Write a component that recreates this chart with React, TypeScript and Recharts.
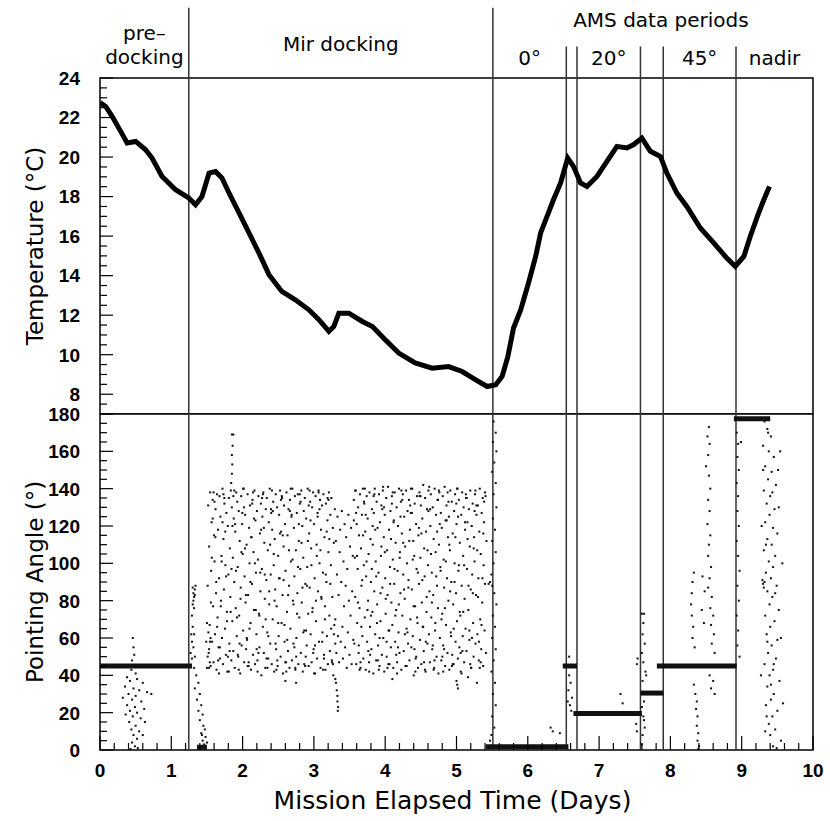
import React from "react";
import {
  ComposedChart,
  Line,
  Scatter,
  XAxis,
  YAxis,
  ReferenceLine,
  ReferenceArea,
} from "recharts";

// ---------- temperature (top panel) ----------
const tempDays = [
  0.0, 0.08, 0.17, 0.29, 0.38, 0.5, 0.64, 0.73, 0.87, 1.06, 1.245, 1.34, 1.43,
  1.53, 1.62, 1.71, 1.81, 1.95, 2.09, 2.23, 2.37, 2.55, 2.74, 2.93, 3.07, 3.21,
  3.28, 3.35, 3.49, 3.68, 3.82, 4.0, 4.19, 4.42, 4.66, 4.89, 5.08, 5.27, 5.43,
  5.55, 5.64, 5.72, 5.8, 5.9, 6.01, 6.11, 6.18, 6.27, 6.36, 6.46, 6.56, 6.64,
  6.74, 6.83, 6.97, 7.11, 7.25, 7.39, 7.48, 7.6, 7.72, 7.86, 7.95, 8.09, 8.23,
  8.42, 8.61, 8.79, 8.91, 9.03, 9.12, 9.22, 9.31, 9.39,
];
const tempValues = [
  22.75, 22.56, 22.06, 21.3, 20.71, 20.79, 20.37, 19.95, 19.02, 18.35, 17.93,
  17.59, 18.0, 19.19, 19.27, 18.94, 18.18, 17.17, 16.16, 15.14, 14.05, 13.2,
  12.78, 12.27, 11.77, 11.18, 11.43, 12.1, 12.1, 11.68, 11.43, 10.76, 10.08,
  9.58, 9.32, 9.4, 9.15, 8.73, 8.39, 8.48, 8.9, 9.9, 11.35, 12.27, 13.63,
  14.97, 16.16, 17.0, 17.84, 18.69, 19.95, 19.53, 18.69, 18.51, 19.02, 19.78,
  20.54, 20.46, 20.62, 20.96, 20.29, 20.03, 19.19, 18.18, 17.5, 16.41, 15.65,
  14.89, 14.47, 14.97, 15.98, 17.0, 17.84, 18.51,
];
const tempMajorTicks = [8, 10, 12, 14, 16, 18, 20, 22, 24];

// ---------- pointing angle (bottom panel) ----------
// steady attitude holds: start day, end day, angle
const holdStart = [0, 1.36, 5.41, 6.49, 6.64, 7.58, 7.81, 8.89];
const holdEnd = [1.29, 1.5, 6.57, 6.69, 7.6, 7.9, 8.93, 9.4];
const holdAngle = [45, 1.5, 1.8, 45, 19.5, 30.5, 45, 177.5];

// Mir docking: samples evenly spaced in time
const mirEarlyRange = [1.51, 3.3];
const mirEarlyAngles = [
  88, 131, 52, 109, 67, 138, 45, 96, 122, 58, 134, 77, 47, 115, 101, 62, 129, 84, 43, 137,
  71, 118, 55, 92, 136, 49, 125, 80, 104, 60, 140, 46, 113, 86, 132, 65, 99, 51, 127, 74,
  42, 120, 94, 135, 57, 108, 82, 139, 48, 130, 69, 103, 53, 124, 90, 44, 117, 76, 138, 61,
  133, 98, 50, 128, 72, 112, 41, 87, 136, 56, 121, 105, 64, 140, 47, 93, 126, 79, 54, 110,
  59, 137, 83, 45, 119, 100, 131, 68, 43, 114, 89, 134, 51, 106, 75, 139, 46, 123, 95, 62,
  128, 48, 102, 136, 73, 55, 116, 85, 132, 40, 97, 125, 66, 138, 52, 111, 81, 44, 129, 91,
  135, 63, 107, 49, 122, 78, 140, 57, 94, 127, 46, 118, 70, 133, 99, 42, 113, 86, 137, 54,
  77, 130, 45, 104, 61, 126, 92, 139, 50, 117, 68, 135, 83, 41, 109, 131, 58, 121, 96, 47,
  138, 74, 115, 53, 129, 88, 44, 134, 65, 101, 125, 48, 140, 80, 57, 119, 93, 136, 43, 107,
  60, 127, 84, 137, 46, 112, 71, 132, 97, 52, 139, 79, 120, 42, 103, 128, 64, 135, 89, 50,
  124, 56, 98, 140, 73, 45, 116, 87, 133, 62, 108, 47, 130, 76, 138, 54, 121, 92, 41, 136,
  69, 110, 49, 127, 85, 139, 58, 100, 134, 44, 118, 81, 131, 63, 95, 137, 51, 114, 77, 43,
  132, 90, 61, 123, 46, 106, 138, 72, 53, 126, 99, 135, 48, 82, 119, 40, 111, 67, 129, 57,
];
const mirGapRange = [3.3, 3.56];
const mirGapAngles = [
  70, 112, 52, 94, 125, 61, 83, 47, 106, 118, 58, 90, 128, 66, 49, 101, 77, 121,
  55, 88, 114, 44, 97, 63, 126, 80, 51, 109, 72, 119, 46, 85, 104, 59, 123,
];
const mirLateRange = [3.56, 5.42];
const mirLateAngles = [
  134, 57, 103, 82, 139, 46, 121, 68, 97, 130, 52, 115, 76, 137, 44, 108, 88, 126, 61, 140,
  49, 99, 132, 71, 117, 43, 93, 136, 58, 124, 80, 105, 47, 138, 66, 113, 90, 54, 129, 74,
  110, 41, 127, 85, 140, 62, 101, 48, 133, 78, 119, 56, 95, 137, 45, 122, 69, 104, 131, 51,
  87, 139, 60, 114, 42, 126, 92, 73, 135, 50, 107, 83, 141, 64, 118, 46, 98, 128, 55, 79,
  136, 67, 102, 44, 123, 89, 138, 58, 111, 75, 130, 47, 96, 120, 63, 140, 52, 106, 84, 133,
  43, 116, 72, 137, 94, 53, 125, 81, 109, 45, 139, 65, 100, 128, 57, 91, 134, 48, 118, 70,
  127, 55, 86, 140, 61, 112, 40, 104, 132, 77, 49, 121, 97, 136, 68, 44, 115, 89, 138, 59,
  103, 131, 46, 79, 124, 66, 142, 53, 108, 93, 135, 42, 117, 74, 129, 57, 99, 139, 62, 85,
  47, 120, 137, 71, 95, 54, 130, 83, 113, 44, 140, 64, 106, 126, 50, 88, 134, 76, 41, 110,
  138, 60, 98, 127, 48, 119, 73, 136, 56, 102, 87, 141, 45, 123, 67, 131, 92, 52, 114, 80,
  125, 43, 107, 139, 63, 90, 133, 51, 116, 78, 46, 128, 100, 137, 58, 84, 121, 69, 140, 49,
  96, 134, 55, 111, 72, 42, 126, 88, 138, 61, 104, 130, 47, 81, 118, 65, 135, 53, 97, 122,
  39, 75, 129, 59, 109, 139, 86, 44, 120, 94, 132, 68, 50, 114, 101, 137, 57, 83, 126, 36,
  62, 131, 92, 48, 117, 140, 70, 105, 54, 127, 79, 135, 45, 99, 122, 64, 89, 136, 52, 112,
];
// second telemetry stream during docking (slow attitude swings)
const mirSwingEarlyRange = [1.53, 3.28];
const mirSwingEarlyAngles = [
  44, 58, 79, 103, 124, 138, 133, 114, 90, 66, 48, 41, 55, 77, 101, 122, 137, 135, 117, 93,
  69, 50, 42, 53, 74, 97, 120, 136, 139, 121, 96, 71, 51, 43, 57, 81, 106, 127, 140, 130,
  108, 83, 60, 45, 47, 65, 90, 114, 132, 138, 124, 100, 75, 54, 42, 52, 72, 95, 118, 135,
  137, 119, 94, 70, 49, 44, 61, 85, 110, 129, 139, 128, 105, 80, 57, 43, 48, 68, 92, 116,
  134, 136, 115, 91, 67, 47, 42, 59, 83, 107, 128, 140, 126, 102, 78, 55, 44, 50, 73, 98,
  121, 137, 133, 111, 87, 63, 46, 45, 64, 88, 112, 131, 139, 123, 99, 74, 52, 41, 56, 80,
  104, 125, 138, 129, 107, 82, 58, 43, 49, 70, 94, 117, 135, 134, 113, 89, 65, 47, 46, 62,
];
const mirSwingLateRange = [3.58, 5.4];
const mirSwingLateAngles = [
  139, 127, 104, 79, 56, 43, 47, 66, 91, 115, 133, 140, 126, 101, 75, 53, 42, 51, 72, 97,
  120, 136, 137, 118, 93, 68, 48, 43, 60, 84, 109, 129, 141, 130, 106, 81, 58, 44, 46, 64,
  89, 113, 132, 138, 122, 97, 72, 51, 41, 55, 78, 103, 125, 139, 134, 111, 86, 62, 45, 45,
  63, 87, 112, 131, 140, 127, 102, 77, 54, 42, 50, 71, 95, 119, 136, 136, 116, 91, 66, 47,
  43, 58, 82, 107, 128, 141, 129, 105, 79, 56, 43, 48, 68, 93, 117, 134, 139, 121, 96, 70,
  50, 42, 54, 76, 101, 123, 138, 133, 110, 85, 61, 45, 46, 65, 90, 114, 132, 140, 125, 99,
  74, 52, 41, 53, 74, 99, 122, 137, 135, 113, 88, 64, 46, 44, 60, 84, 108, 128, 139, 131,
  107, 82, 58, 44, 47, 67, 92, 116, 133, 138,
];

// scattered single samples: [day, angle]
const preDockScatter = [
  [0.46, 60], [0.47, 55], [0.48, 51], [0.45, 48], [0.44, 43], [0.5, 41], [0.38, 39],
  [0.42, 37], [0.52, 38], [0.6, 36], [0.35, 34], [0.47, 33], [0.55, 32], [0.66, 31],
  [0.4, 30], [0.5, 29], [0.32, 28], [0.45, 27], [0.58, 26], [0.38, 24], [0.49, 23],
  [0.62, 22], [0.42, 21], [0.52, 20], [0.36, 19], [0.46, 18], [0.57, 17], [0.63, 15],
  [0.41, 15], [0.5, 13], [0.44, 11], [0.55, 10], [0.47, 8], [0.52, 6], [0.45, 4],
  [0.49, 2], [0.53, 1], [0.72, 30], [0.6, 8], [0.43, 0.5],
];
const dockingScatter = [
  [1.3, 87], [1.31, 84], [1.32, 82], [1.31, 80], [1.33, 86], [1.3, 78], [1.32, 76],
  [1.33, 83], [1.34, 88], [1.29, 72], [1.3, 66], [1.32, 62], [1.29, 58], [1.31, 55],
  [1.33, 50], [1.29, 49], [1.32, 44], [1.35, 40], [1.38, 36], [1.33, 33], [1.4, 30],
  [1.36, 27], [1.42, 24], [1.38, 21], [1.44, 19], [1.4, 16], [1.45, 13], [1.47, 11],
  [1.42, 9], [1.48, 7], [1.44, 5], [1.46, 3], [1.43, 8], [1.5, 4], [1.5, 68],
  [1.52, 63], [1.49, 58], [1.53, 54], [1.51, 50], [1.54, 47], [1.5, 44], [1.55, 60],
  [1.28, 62], [1.27, 52], [1.84, 143], [1.85, 148], [1.855, 153], [1.85, 158],
  [1.86, 163], [1.85, 169], [1.87, 169], [3.3, 38], [3.31, 36], [3.32, 32],
  [3.33, 29], [3.33, 26], [3.34, 23], [3.335, 21], [5.0, 37], [5.02, 33],
  [5.01, 35], [2.6, 37], [2.75, 36], [4.1, 38],
];
const undockScatter = [
  [5.52, 176], [5.55, 170], [5.51, 165], [5.56, 160], [5.53, 154], [5.5, 149],
  [5.55, 143], [5.52, 137], [5.56, 130], [5.51, 124], [5.54, 118], [5.5, 112],
  [5.55, 106], [5.52, 100], [5.49, 94], [5.47, 90], [5.45, 89], [5.5, 88],
  [5.53, 84], [5.56, 78], [5.51, 72], [5.54, 66], [5.5, 60], [5.55, 54],
  [5.52, 48], [5.49, 42], [5.54, 36], [5.51, 30], [5.55, 24], [5.5, 18],
  [5.53, 12], [5.49, 8], [5.47, 5],
];
const amsScatter = [
  [6.32, 12], [6.35, 10], [6.45, 9], [6.58, 40], [6.6, 36], [6.57, 32], [6.62, 28],
  [6.59, 24], [6.61, 21], [6.56, 26], [6.58, 50], [7.3, 30], [7.33, 25], [7.53, 46],
  [7.54, 49], [7.52, 14], [7.53, 10], [7.6, 73], [7.63, 73], [7.62, 68], [7.61, 62],
  [7.64, 57], [7.6, 52], [7.62, 47], [7.65, 42], [7.61, 37], [7.63, 26], [7.6, 23],
  [7.62, 18], [7.64, 12], [7.61, 8], [7.6, 3], [7.63, 16], [7.66, 40],
  [8.33, 95], [8.31, 90], [8.3, 84], [8.29, 78], [8.3, 72], [8.32, 66], [8.31, 60],
  [8.34, 55], [8.33, 35], [8.35, 30], [8.37, 26], [8.36, 22], [8.38, 18], [8.37, 13],
  [8.39, 9], [8.38, 5], [8.4, 2], [8.39, 0.5], [8.54, 173], [8.52, 168], [8.55, 164],
  [8.53, 158], [8.5, 152], [8.54, 147], [8.56, 140], [8.53, 134], [8.55, 128],
  [8.52, 121], [8.56, 115], [8.54, 110], [8.53, 104], [8.57, 98], [8.55, 92],
  [8.53, 87], [8.58, 82], [8.56, 76], [8.6, 72], [8.57, 67], [8.61, 62], [8.58, 57],
  [8.62, 52], [8.55, 40], [8.6, 37], [8.57, 33], [8.62, 30], [8.45, 93], [8.48, 85],
  [8.44, 75], [8.47, 68], [8.93, 170], [8.95, 164], [8.94, 157], [8.96, 150],
  [8.93, 143], [8.95, 136], [8.94, 128], [8.96, 120], [8.93, 112], [8.95, 104],
  [8.97, 96], [8.94, 88], [8.96, 80], [8.93, 72], [8.95, 64], [8.94, 56], [8.97, 50],
  [8.99, 165],
];
const nadirScatter = [
  [9.32, 176], [9.36, 172], [9.41, 168], [9.3, 163], [9.38, 160], [9.45, 157],
  [9.33, 152], [9.42, 149], [9.37, 145], [9.48, 142], [9.31, 139], [9.4, 136],
  [9.35, 132], [9.46, 129], [9.39, 126], [9.33, 122], [9.44, 119], [9.5, 116],
  [9.36, 113], [9.42, 110], [9.31, 107], [9.47, 104], [9.38, 101], [9.44, 98],
  [9.34, 95], [9.29, 91], [9.3, 89], [9.31, 87], [9.32, 90], [9.41, 92], [9.49, 88],
  [9.36, 85], [9.43, 82], [9.39, 78], [9.52, 75], [9.33, 72], [9.46, 69], [9.4, 66],
  [9.35, 62], [9.5, 59], [9.42, 56], [9.37, 52], [9.48, 49], [9.32, 46], [9.44, 43],
  [9.39, 40], [9.53, 37], [9.36, 34], [9.45, 30], [9.41, 27], [9.34, 24], [9.5, 21],
  [9.43, 18], [9.38, 14], [9.47, 11], [9.4, 8], [9.55, 5], [9.44, 2], [9.49, 1],
  [9.35, 18], [9.52, 130], [9.54, 160], [9.3, 150], [9.28, 120], [9.57, 100],
  [9.55, 60], [9.27, 40], [9.58, 25], [9.37, 170], [9.43, 138], [9.34, 110],
  [9.47, 84], [9.36, 58], [9.41, 35], [9.33, 10], [9.51, 150], [9.45, 46],
];
const angleMajorTicks = [0, 20, 40, 60, 80, 100, 120, 140, 160, 180];
const dayTicks = [0, 1, 2, 3, 4, 5, 6, 7, 8, 9, 10];

// ---------- mission periods ----------
const mainDividers = [1.245, 5.51];
const amsDividers = [6.54, 6.69, 7.58, 7.9, 8.92];
const periodLabels = [["pre–", "docking"], ["Mir docking"], ["0°"], ["20°"], ["45°"], ["nadir"]];
const periodFrom = [0, 1.245, 5.51, 6.69, 7.9, 8.92];
const periodTo = [1.245, 5.51, 6.54, 7.58, 8.92, 10];
const periodTextTop = [45, 34, 20, 20, 20, 20];

// ---------- helpers ----------
const W = 830;
const PLOT_RIGHT = 17;
const AXIS_W = 100;
const TICK_FONT = "'Liberation Sans', Arial, sans-serif";
const TITLE_FONT = "'DejaVu Sans', Verdana, sans-serif";

const fineTicks = (lo: number, hi: number, step: number) => {
  const out: number[] = [];
  for (let v = lo; v <= hi + 1e-9; v += step) out.push(Math.round(v * 1000) / 1000);
  return out;
};
const isIn = (v: number, list: number[]) => list.some((m) => Math.abs(m - v) < 1e-6);

const toPoints = (pairs: number[][]) => pairs.map(([x, y]) => ({ x, y }));
const spread = (range: number[], angles: number[]) =>
  angles.map((y, i) => ({ x: range[0] + ((range[1] - range[0]) * i) / (angles.length - 1), y }));

const tempData = tempDays.map((x, i) => ({ x, y: tempValues[i] }));
const mirData = [
  ...spread(mirEarlyRange, mirEarlyAngles),
  ...spread(mirGapRange, mirGapAngles),
  ...spread(mirLateRange, mirLateAngles),
  ...spread(mirSwingEarlyRange, mirSwingEarlyAngles),
  ...spread(mirSwingLateRange, mirSwingLateAngles),
];
const scatterData = [
  ...toPoints(preDockScatter),
  ...toPoints(dockingScatter),
  ...toPoints(undockScatter),
  ...toPoints(amsScatter),
  ...toPoints(nadirScatter),
];

const Dot = (props: any) => {
  const { cx, cy } = props;
  if (cx == null || cy == null) return null;
  return <rect x={cx - 1} y={cy - 1} width={2} height={2} fill="#111" />;
};

const XTick = (props: any) => {
  const { x, y, payload, showLabel } = props;
  const v = payload.value;
  const major = isIn(v, dayTicks);
  return (
    <g>
      <line x1={x} y1={y} x2={x} y2={y - (major ? 14 : 7)} stroke="#000" strokeWidth={1.2} />
      {showLabel && major && (
        <text x={x} y={y + 27} textAnchor="middle" fontFamily={TICK_FONT} fontWeight="bold" fontSize={19} fill="#000">
          {Math.round(v)}
        </text>
      )}
    </g>
  );
};

const YTick = (props: any) => {
  const { x, y, payload, majors } = props;
  const v = payload.value;
  const major = isIn(v, majors);
  return (
    <g>
      <line x1={x} y1={y} x2={x + (major ? 13 : 7)} y2={y} stroke="#000" strokeWidth={1.2} />
      {major && (
        <text x={x - 20} y={y} dy="0.36em" textAnchor="end" fontFamily={TICK_FONT} fontWeight="bold" fontSize={19} fill="#000">
          {v}
        </text>
      )}
    </g>
  );
};

const YTitle = (props: any) => {
  const { viewBox, text } = props;
  const cx = viewBox.x + 35;
  const cy = viewBox.y + viewBox.height / 2;
  return (
    <text x={cx} y={cy} transform={`rotate(-90 ${cx} ${cy})`} textAnchor="middle" dominantBaseline="central" fontFamily={TITLE_FONT} fontSize={23} fill="#000">
      {text}
    </text>
  );
};

const XTitle = (props: any) => {
  const { viewBox } = props;
  return (
    <text x={viewBox.x + viewBox.width / 2 - 4} y={viewBox.y + 50} textAnchor="middle" dominantBaseline="central" fontFamily={TITLE_FONT} fontSize={25} fill="#000">
      Mission Elapsed Time (Days)
    </text>
  );
};

const PeriodLabel = (props: any) => {
  const { viewBox, lines, top, dx = 0 } = props;
  const cx = viewBox.x + viewBox.width / 2 + dx;
  return (
    <g>
      {lines.map((t: string, i: number) => (
        <text key={i} x={cx} y={viewBox.y - top + i * 24} textAnchor="middle" dominantBaseline="central" fontFamily={TITLE_FONT} fontSize={20} fill="#000">
          {t}
        </text>
      ))}
    </g>
  );
};

export default function App() {
  return (
    <div style={{ position: "absolute", left: 0, top: 0, width: W, height: 821, background: "#fff" }}>
      {/* pointing angle panel (drawn first so the temperature panel frame sits on top) */}
      <div style={{ position: "absolute", left: 0, top: 394 }}>
        <ComposedChart width={W} height={427} margin={{ top: 20, right: PLOT_RIGHT, bottom: 0, left: 0 }}>
          <XAxis
            dataKey="x"
            type="number"
            domain={[0, 10]}
            allowDataOverflow
            ticks={fineTicks(0, 10, 0.2)}
            interval={0}
            height={71}
            tickSize={0}
            tickMargin={0}
            axisLine={false}
            tickLine={false}
            tick={(p: any) => <XTick {...p} showLabel />}
            label={<XTitle />}
          />
          <YAxis
            dataKey="y"
            type="number"
            domain={[0, 180]}
            allowDataOverflow
            ticks={fineTicks(0, 180, 5)}
            interval={0}
            width={AXIS_W}
            tickSize={0}
            tickMargin={0}
            axisLine={false}
            tickLine={false}
            tick={(p: any) => <YTick {...p} majors={angleMajorTicks} />}
            label={<YTitle text="Pointing Angle (°)" />}
          />
          {[...mainDividers, ...amsDividers].map((d) => (
            <ReferenceLine key={`v${d}`} x={d} stroke="#333" strokeWidth={1.5} />
          ))}
          {holdAngle.map((a, i) => (
            <Line
              key={`h${i}`}
              data={[
                { x: holdStart[i], y: a },
                { x: holdEnd[i], y: a },
              ]}
              dataKey="y"
              type="linear"
              stroke="#111"
              strokeWidth={5}
              dot={false}
              isAnimationActive={false}
            />
          ))}
          <Scatter data={mirData} dataKey="y" shape={Dot} isAnimationActive={false} />
          <Scatter data={scatterData} dataKey="y" shape={Dot} isAnimationActive={false} />
          <ReferenceArea x1={0} x2={10} y1={0} y2={180} fill="none" stroke="#000" strokeWidth={1.5} ifOverflow="visible" />
        </ComposedChart>
      </div>

      {/* temperature panel */}
      <div style={{ position: "absolute", left: 0, top: 0 }}>
        <ComposedChart width={W} height={414} margin={{ top: 78, right: PLOT_RIGHT, bottom: 0, left: 0 }}>
          <XAxis
            dataKey="x"
            type="number"
            domain={[0, 10]}
            allowDataOverflow
            ticks={fineTicks(0, 10, 0.2)}
            interval={0}
            height={0}
            tickSize={0}
            tickMargin={0}
            axisLine={false}
            tickLine={false}
            tick={(p: any) => <XTick {...p} showLabel={false} />}
          />
          <YAxis
            dataKey="y"
            type="number"
            domain={[7, 24]}
            allowDataOverflow
            ticks={fineTicks(7.5, 24, 0.5)}
            interval={0}
            width={AXIS_W}
            tickSize={0}
            tickMargin={0}
            axisLine={false}
            tickLine={false}
            tick={(p: any) => <YTick {...p} majors={tempMajorTicks} />}
            label={<YTitle text="Temperature (°C)" />}
          />
          {periodLabels.map((lines, i) => (
            <ReferenceArea
              key={`p${i}`}
              x1={periodFrom[i]}
              x2={periodTo[i]}
              fill="none"
              stroke="none"
              label={<PeriodLabel lines={lines} top={periodTextTop[i]} />}
            />
          ))}
          <ReferenceArea
            x1={5.51}
            x2={10}
            fill="none"
            stroke="none"
            label={<PeriodLabel lines={["AMS data periods"]} top={58} dx={8} />}
          />
          {mainDividers.map((d) => (
            <ReferenceLine
              key={`m${d}`}
              segment={[{ x: d, y: 7 }, { x: d, y: 27.55 }]}
              ifOverflow="visible"
              stroke="#333"
              strokeWidth={1.5}
            />
          ))}
          {amsDividers.map((d) => (
            <ReferenceLine
              key={`a${d}`}
              segment={[{ x: d, y: 7 }, { x: d, y: 25.6 }]}
              ifOverflow="visible"
              stroke="#333"
              strokeWidth={1.5}
            />
          ))}
          <Line
            data={tempData}
            dataKey="y"
            type="linear"
            stroke="#000"
            strokeWidth={5}
            dot={false}
            isAnimationActive={false}
          />
          <ReferenceArea x1={0} x2={10} y1={7} y2={24} fill="none" stroke="#000" strokeWidth={1.5} ifOverflow="visible" />
        </ComposedChart>
      </div>
    </div>
  );
}
